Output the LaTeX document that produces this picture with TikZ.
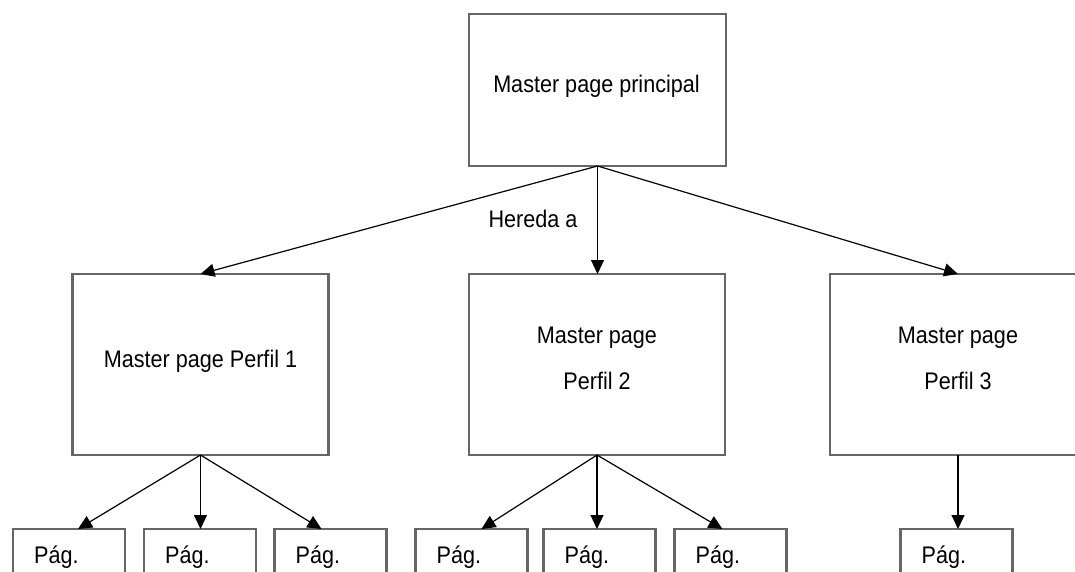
\documentclass[tikz,border=0pt]{standalone}
\usepackage{fontspec}
\setmainfont{Liberation Sans}[FakeStretch=0.9]
\usetikzlibrary{arrows.meta,calc}
\definecolor{boxgray}{RGB}{102,102,102}
\begin{document}
\begin{tikzpicture}[x=1pt,y=-1pt,
  box/.style={draw=boxgray, line width=2.2pt, fill=white, inner sep=0pt, outer sep=0pt},
  bigbox/.style={box, minimum width=256pt, minimum height=181pt},
  leaf/.style={box, minimum width=112pt, minimum height=80pt},
  link/.style={line width=1.2pt, -{Triangle[length=14pt,width=13pt]}},
  lbl/.style={font=\fontsize{24}{28}\selectfont, inner sep=0pt, anchor=base},
  leaflbl/.style={lbl, anchor=base west},
]
\useasboundingbox (0,0) rectangle (1075,572);
\begin{scope}
\clip (0,0) rectangle (1075,572);

% root and the three profile masters
\node[box, minimum width=257pt, minimum height=152pt] (root) at (597.5,90) {};
\node[bigbox] (p1) at (200.5,364.5) {};
\node[bigbox] (p2) at (597,364.5) {};
\node[bigbox] (p3) at (958,364.5) {};

% content pages
\node[leaf] (a) at (69,569) {};
\node[leaf] (b) at (200,569) {};
\node[leaf] (c) at (330.5,569) {};
\node[leaf] (d) at (471.5,569) {};
\node[leaf] (e) at (599.5,569) {};
\node[leaf] (f) at (730.5,569) {};
\node[leaf] (g) at (956.5,569) {};

% texts
\node[lbl] (troot) at (596.5,93) {Master page principal};
\node[lbl] (tp1) at (200.5,367) {Master page Perfil 1};
\node[lbl] (tp2a) at (597,343) {Master page};
\node[lbl] (tp2b) at (597,389) {Perfil 2};
\node[lbl] (tp3a) at (958,343) {Master page};
\node[lbl] (tp3b) at (958,389) {Perfil 3};
\node[lbl] (inh) at (533,227) {Hereda a};
\foreach \n in {a,b,c,d,e,f,g}
  \node[leaflbl] (t\n) at ($(\n.north west)+(21,34)$) {Pág.};

% inheritance arrows
\draw[link] (root.south) -- (p1.north);
\draw[link] (root.south) -- (root.south |- p2.north);
\draw[link] (root.south) -- (p3.north);

\draw[link] (p1.south) -- ($(a.north)+(9,0)$);
\draw[link] (p1.south) -- (p1.south |- b.north);
\draw[link] (p1.south) -- ($(c.north)+(-9,0)$);

\draw[link] (p2.south) -- ($(d.north)+(10,0)$);
\draw[link] (p2.south) -- (p2.south |- e.north);
\draw[link] (p2.south) -- ($(f.north)+(-8,0)$);

\draw[link] (p3.south) -- (p3.south |- g.north);
\end{scope}
\end{tikzpicture}
\end{document}
